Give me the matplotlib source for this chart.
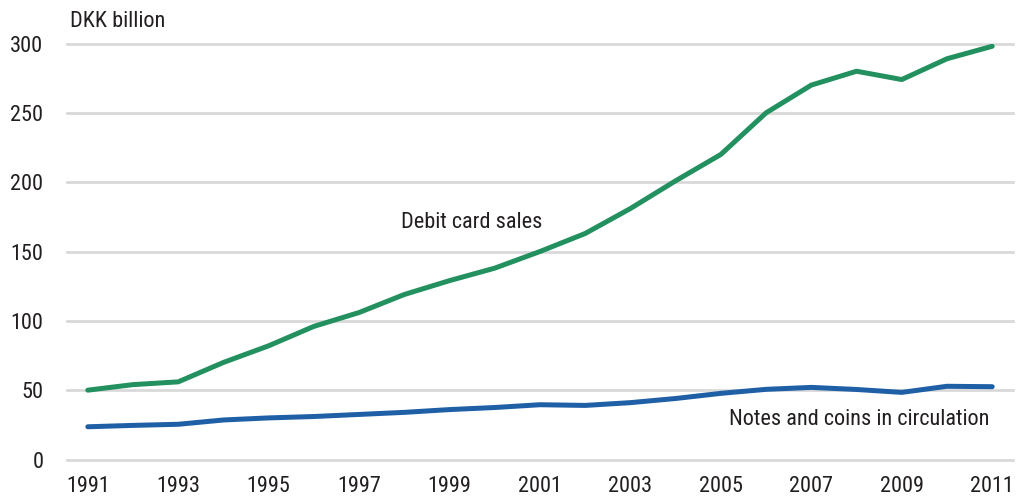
import matplotlib.pyplot as plt

years = list(range(1991, 2012))
debit_card = [50, 54, 56, 70, 82, 96, 106, 119, 129, 138, 150, 163, 181, 201, 220, 250, 270, 280, 274, 289, 298]
notes_coins = [23.6, 24.6, 25.4, 28.5, 30, 31, 32.5, 34, 36, 37.5, 39.5, 39, 41, 44, 47.7, 50.6, 52, 50.5, 48.4, 52.8, 52.5]
xticks = list(range(1991, 2012, 2))
yticks = [0, 50, 100, 150, 200, 250, 300]

plt.rcParams['font.family'] = ['Roboto Condensed', 'Liberation Sans Narrow', 'Roboto', 'DejaVu Sans']
text_color = '#231f20'

fig = plt.figure(figsize=(10.26, 5.01), dpi=100)
ax = fig.add_axes([67 / 1026, 41.5 / 501, 946 / 1026, 416 / 501])

ax.plot(years, debit_card, color='#23905f', linewidth=3.6, solid_capstyle='round')
ax.plot(years, notes_coins, color='#1f5fa6', linewidth=3.6, solid_capstyle='round')

ax.set_xlim(1990.54, 2011.46)
ax.set_ylim(0, 300)
ax.set_xticks(xticks)
ax.set_yticks(yticks)
ax.tick_params(length=0, labelsize=16, labelcolor=text_color)
ax.tick_params(axis='y', pad=17)
ax.tick_params(axis='x', pad=12)
ax.grid(axis='y', color='#d9d9d9', linewidth=2)
for gl in ax.get_ygridlines():
    gl.set_clip_on(False)
ax.set_axisbelow(True)
for s in ax.spines.values():
    s.set_visible(False)

ax.text(1990.6, 316, 'DKK billion', fontsize=16, color=text_color, va='center', ha='left')
ax.text(1999.5, 171, 'Debit card sales', fontsize=16, color=text_color, va='center', ha='center')
ax.text(2008.07, 28.5, 'Notes and coins in circulation', fontsize=16, color=text_color, va='center', ha='center')

fig.savefig('out.png', dpi=100)
